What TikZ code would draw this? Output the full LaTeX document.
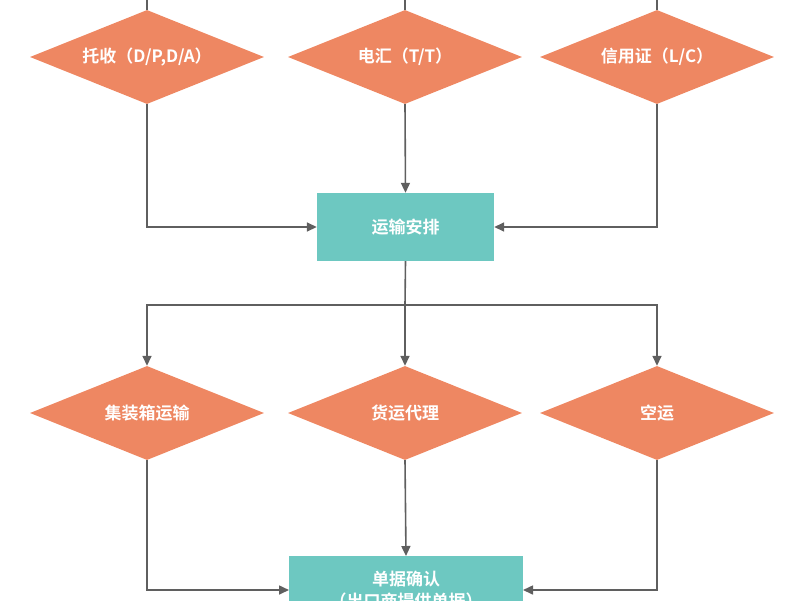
\documentclass[tikz,border=0pt]{standalone}
\usepackage{fontspec}
\setmainfont{Noto Sans CJK SC}[BoldFont={Noto Sans CJK SC Bold}]
\usetikzlibrary{shapes.geometric,arrows.meta}
\definecolor{dia}{HTML}{EE8762}
\definecolor{box}{HTML}{6DC8C1}
\definecolor{ln}{HTML}{5F5F5F}
\begin{document}
\begin{tikzpicture}[x=1pt,y=-1pt,
 d/.style={diamond,fill=dia,draw=none,minimum width=234pt,minimum height=94pt,inner sep=0pt,aspect=2.5,text=white,font=\bfseries\fontsize{17}{20}\selectfont},
 b/.style={rectangle,fill=box,draw=none,text=white,font=\bfseries\fontsize{17}{22}\selectfont,align=center},
 c/.style={draw=ln,line width=1.6pt,-{Triangle[length=10pt,width=9pt]}},
 p/.style={draw=ln,line width=1.6pt}]
\useasboundingbox (0,0) rectangle (800,600);
\node[d] (d1) at (147,57) {托收（D/P,D/A）};
\node[d] (d2) at (405,57) {电汇（T/T）};
\node[d] (d3) at (657,57) {信用证（L/C）};
\coordinate (t1) at (147,0); \coordinate (t2) at (405,0); \coordinate (t3) at (657,0);
\draw[p] (t1) -- (d1.north); \draw[p] (t2) -- (d2.north); \draw[p] (t3) -- (d3.north);
\node[b,minimum width=177pt,minimum height=68pt] (b1) at (405.5,227) {运输安排};
\draw[c] (d1.south) |- (b1.west);
\draw[c] (d2.south) -- (b1.north);
\draw[c] (d3.south) |- (b1.east);
\node[d] (e1) at (147,413) {集装箱运输};
\node[d] (e2) at (405,413) {货运代理};
\node[d] (e3) at (657,413) {空运};
\coordinate (s) at (405,305);
\draw[p] (b1.south) -- (s);
\draw[c] (s) -| (e1.north);
\draw[c] (s) -- (e2.north);
\draw[c] (s) -| (e3.north);
\node[b,minimum width=234pt,minimum height=68pt,anchor=north] (b2) at (406,556) {单据确认\\（出口商提供单据）};
\coordinate (w) at (289,590); \coordinate (ea) at (523,590);
\draw[c] (e1.south) |- (w);
\draw[c] (e2.south) -- (b2.north);
\draw[c] (e3.south) |- (ea);
\end{tikzpicture}
\end{document}
